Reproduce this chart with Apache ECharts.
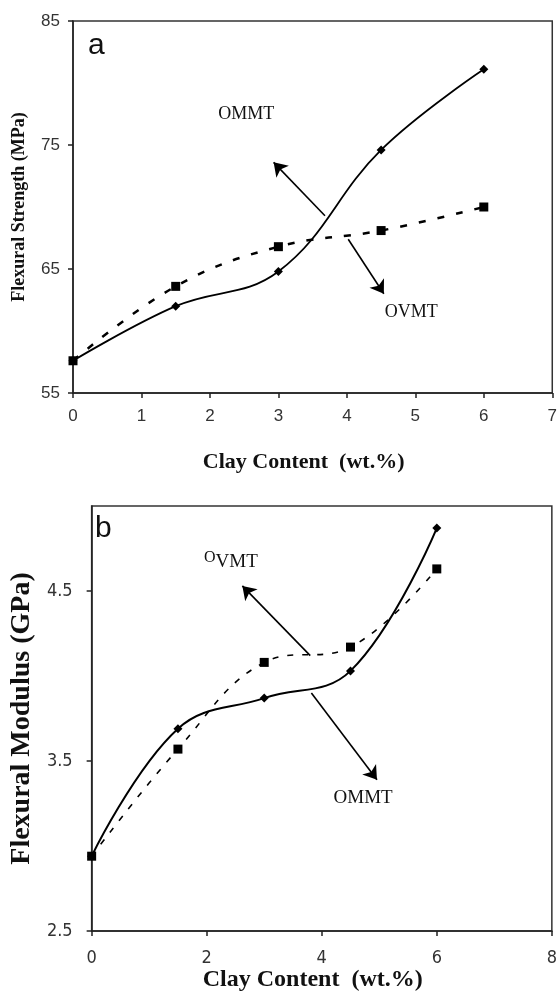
<!DOCTYPE html>
<html>
<head>
<meta charset="utf-8">
<script src="https://cdn.jsdelivr.net/npm/echarts@6/dist/echarts.min.js"></script>
<style>
  html, body { margin: 0; padding: 0; background: #fff; }
  #chart { width: 560px; height: 994px; }
</style>
</head>
<body>
<div id="chart"></div>
<script>
// clay content (wt.%)
const clayContent = [0, 1.5, 3, 4.5, 6];
// (a) flexural strength, MPa
const strengthOMMT = [57.6, 62.0, 64.8, 74.6, 81.1];
const strengthOVMT = [57.6, 63.6, 66.8, 68.1, 70.0];
// (b) flexural modulus, GPa
const modulusOMMT = [2.94, 3.69, 3.87, 4.03, 4.87];
const modulusOVMT = [2.94, 3.57, 4.08, 4.17, 4.63];
// tick labels
const strengthTicks = [55, 65, 75, 85];
const modulusTicks = [2.5, 3.5, 4.5];

const pairs = (xs, ys) => xs.map((x, i) => [x, ys[i]]);

const serif = '"Liberation Serif", "Times New Roman", serif';
const sans = '"Liberation Sans", Arial, sans-serif';
const narrow = '"Liberation Sans Narrow", "DejaVu Sans Condensed", sans-serif';

const axisLineStyle = { lineStyle: { color: '#222', width: 1.5 } };

const arrow = (lines) => ({
    silent: true,
    symbol: ['none', 'arrow'],
    symbolSize: 13,
    lineStyle: { color: '#000', width: 1.6, type: 'solid' },
    label: { show: false },
    emphasis: { disabled: true },
    data: lines.map(l => [{ coord: l[0] }, { coord: l[1] }])
});

const note = (items, font) => ({
    silent: true,
    symbol: 'circle',
    symbolSize: 1,
    itemStyle: { color: 'rgba(0,0,0,0)' },
    label: Object.assign({ show: true, position: 'inside', color: '#111' }, font),
    data: items
});

var myChart = echarts.init(document.getElementById('chart'));
myChart.setOption({
    animation: false,
    title: [
        { text: 'a', left: 83, top: 26, textStyle: { fontFamily: sans, fontSize: 30, fontWeight: 'normal', color: '#111' } },
        { text: 'b', left: 90, top: 509, textStyle: { fontFamily: sans, fontSize: 30, fontWeight: 'normal', color: '#111' } }
    ],
    grid: [
        { left: 73, top: 21, width: 482, height: 372, show: true, borderColor: '#333', borderWidth: 1.5 },
        { left: 76, top: 506, width: 479, height: 425, show: true, borderColor: '#333', borderWidth: 1.5 }
    ],
    xAxis: [
        {
            gridIndex: 0, type: 'value', min: 0, max: 7, interval: 1,
            name: 'Clay Content  (wt.%)', nameLocation: 'middle', nameGap: 58,
            nameTextStyle: { fontFamily: serif, fontWeight: 'bold', fontSize: 22, color: '#111', padding: [0, 18, 0, 0] },
            axisLine: axisLineStyle,
            axisTick: { show: true, length: 5, lineStyle: { color: '#222', width: 1.5 } },
            axisLabel: { margin: 15, fontFamily: sans, fontSize: 17, color: '#333' },
            splitLine: { show: false }
        },
        {
            gridIndex: 1, type: 'value', min: 0, max: 8, interval: 2,
            name: 'Clay Content  (wt.%)', nameLocation: 'middle', nameGap: 35,
            nameTextStyle: { fontFamily: serif, fontWeight: 'bold', fontSize: 24, color: '#111', padding: [0, 18, 0, 0] },
            axisLine: axisLineStyle,
            axisTick: { show: true, length: 5, lineStyle: { color: '#222', width: 1.5 } },
            axisLabel: { margin: 18, fontFamily: narrow, fontSize: 18, color: '#333' },
            splitLine: { show: false }
        }
    ],
    yAxis: [
        {
            gridIndex: 0, type: 'value', min: 55, max: 85,
            name: 'Flexural Strength (MPa)', nameLocation: 'middle', nameGap: 45,
            nameTextStyle: { fontFamily: serif, fontWeight: 'bold', fontSize: 18, color: '#111' },
            axisLine: axisLineStyle,
            axisTick: { show: true, length: 5, customValues: strengthTicks, lineStyle: { color: '#222', width: 1.5 } },
            axisLabel: { margin: 13, fontFamily: sans, fontSize: 17, color: '#333', customValues: strengthTicks },
            splitLine: { show: false }
        },
        {
            gridIndex: 1, type: 'value', min: 2.5, max: 5,
            name: 'Flexural Modulus (GPa)', nameLocation: 'middle', nameGap: 35,
            nameTextStyle: { fontFamily: serif, fontWeight: 'bold', fontSize: 28, color: '#111' },
            axisLine: axisLineStyle,
            axisTick: { show: true, length: 5, customValues: modulusTicks, lineStyle: { color: '#222', width: 1.5 } },
            axisLabel: { margin: 19, fontFamily: narrow, fontSize: 18, color: '#333', customValues: modulusTicks },
            splitLine: { show: false }
        }
    ],
    series: [
        {
            name: 'OMMT (a)', type: 'line', xAxisIndex: 0, yAxisIndex: 0,
            data: pairs(clayContent, strengthOMMT), smooth: 0.4,
            symbol: 'diamond', symbolSize: 9,
            lineStyle: { color: '#000', width: 1.8 }, itemStyle: { color: '#000' },
            markLine: arrow([
                [[3.68, 69.3], [2.93, 73.6]],
                [[4.02, 67.4], [4.54, 63.0]]
            ]),
            markPoint: note([
                { coord: [2.53, 77.5], label: { formatter: 'OMMT' } },
                { coord: [4.94, 61.5], label: { formatter: 'OVMT' } }
            ], { fontFamily: serif, fontSize: 18 })
        },
        {
            name: 'OVMT (a)', type: 'line', xAxisIndex: 0, yAxisIndex: 0,
            data: pairs(clayContent, strengthOVMT), smooth: 0.4,
            symbol: 'rect', symbolSize: 9,
            lineStyle: { color: '#000', width: 2.5, type: [7, 12] }, itemStyle: { color: '#000' }
        },
        {
            name: 'OMMT (b)', type: 'line', xAxisIndex: 1, yAxisIndex: 1,
            data: pairs(clayContent, modulusOMMT), smooth: 0.4,
            symbol: 'diamond', symbolSize: 9,
            lineStyle: { color: '#000', width: 2 }, itemStyle: { color: '#000' },
            markLine: arrow([
                [[3.80, 4.12], [2.62, 4.53]],
                [[3.82, 3.90], [4.96, 3.39]]
            ]),
            markPoint: note([
                { coord: [2.42, 4.67], label: { formatter: '{s|O}{n|VMT}' } },
                { coord: [4.72, 3.28], label: { formatter: 'OMMT' } }
            ], {
                fontFamily: serif, fontSize: 19,
                rich: {
                    s: { fontFamily: serif, fontSize: 16, color: '#111', padding: [0, 0, 8, 0] },
                    n: { fontFamily: serif, fontSize: 19, color: '#111' }
                }
            })
        },
        {
            name: 'OVMT (b)', type: 'line', xAxisIndex: 1, yAxisIndex: 1,
            data: pairs(clayContent, modulusOVMT), smooth: 0.4,
            symbol: 'rect', symbolSize: 9,
            lineStyle: { color: '#000', width: 1.6, type: [6, 9] }, itemStyle: { color: '#000' }
        }
    ]
});
</script>
</body>
</html>
